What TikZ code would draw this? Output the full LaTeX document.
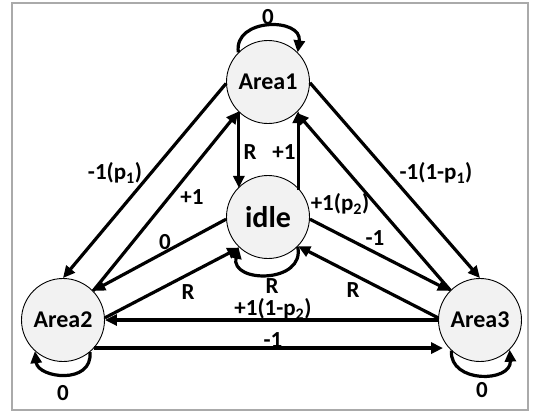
\documentclass[tikz,border=0pt]{standalone}
\usepackage{fontspec}
\setmainfont{Carlito}
\usetikzlibrary{arrows.meta}
\definecolor{nodefill}{RGB}{242,242,242}
\definecolor{framegray}{RGB}{170,170,170}
\begin{document}
\begin{tikzpicture}[x=1pt,y=-1pt,
  state/.style={circle,draw=black,line width=0.9pt,fill=nodefill,minimum size=83pt,
    inner sep=0pt,font=\bfseries\fontsize{24}{24}\selectfont},
  bigstate/.style={state,font=\bfseries\fontsize{30}{30}\selectfont},
  link/.style={line width=3.2pt,-{Triangle[length=12pt,width=11pt]}},
  lbl/.style={font=\bfseries\fontsize{23}{23}\selectfont,inner sep=0pt}]
\useasboundingbox (0,0) rectangle (536,416);
\draw[framegray,line width=2pt] (12,3) rectangle (528,410);

% states
\node[state]    (a1)   at (268,82)  {Area1};
\node[bigstate] (idle) at (268,217) {idle};
\node[state]    (a2)   at (63,320)  {Area2};
\node[state]    (a3)   at (480,320) {Area3};

% transitions between states
\draw[link] (a1.182) -- (a2.90);
\draw[link] (a2.44) -- (a1.225);
\draw[link] (idle.183) -- (a2.44);
\draw[link] (a2.3) -- (idle.227);
\draw[link] (a1.226) -- (a1.226 |- idle.136);
\draw[link] (idle.44 |- idle.40) -- (idle.44 |- a1.316);
\draw[link] (a1.-1) -- (a3.90);
\draw[link] (a3.135) -- (a1.313);
\draw[link] (idle.-3) -- (a3.136);
\draw[link] (a3.177) -- (idle.316);
\draw[link] (a3.180) -- (a2.0);
\coordinate (lowend) at ([xshift=5pt]a3.west |- a2.-42);
\draw[link] (a2.-42) -- (lowend);

% self loops
\draw[link] (a1.135) .. controls +(-5,-35) and +(5,-35) .. (a1.45);
\draw[link] (idle.-45) .. controls +(8,37) and +(-8,37) .. (idle.225);
\draw[link] (a2.-50) .. controls +(3,33) and +(3,27) .. (a2.228);
\draw[link] (a3.227) .. controls +(-2,33) and +(2,33) .. (a3.-45);

% transition labels
\node[lbl] (l1)  at (268,17)  {0};
\node[lbl] (l2)  at (115,173) {-1(p\textsubscript{1})};
\node[lbl] (l3)  at (192,197) {+1};
\node[lbl] (l4)  at (165,242) {0};
\node[lbl] (l5)  at (188,292) {R};
\node[lbl] (l6)  at (250,152) {R};
\node[lbl] (l7)  at (284,152) {+1};
\node[lbl] (l8)  at (436,173) {-1(1-p\textsubscript{1})};
\node[lbl] (l9)  at (340,204) {+1(p\textsubscript{2})};
\node[lbl] (l10) at (375,238) {-1};
\node[lbl] (l11) at (353,290) {R};
\node[lbl] (l12) at (272,286) {R};
\node[lbl] (l13) at (273,309) {+1(1-p\textsubscript{2})};
\node[lbl] (l14) at (273,340) {-1};
\node[lbl] (l15) at (63,393)  {0};
\node[lbl] (l16) at (482,390) {0};
\end{tikzpicture}
\end{document}
